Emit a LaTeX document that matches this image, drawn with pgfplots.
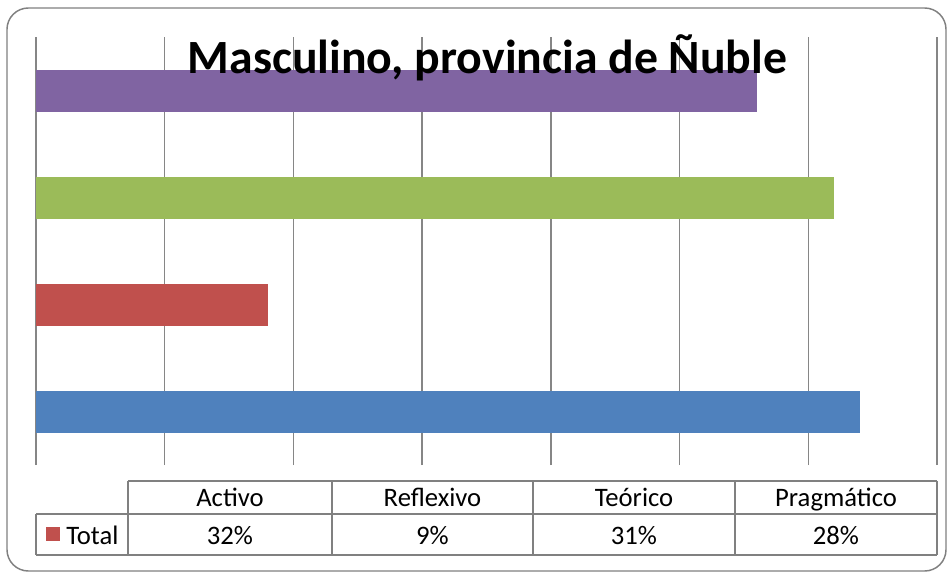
\documentclass[border=0pt]{standalone}
\usepackage{pgfplots}
\pgfplotsset{compat=1.18}
\usepackage{fontspec}
\setmainfont{Carlito}
\definecolor{cBlue}{HTML}{4F81BD}
\definecolor{cRed}{HTML}{C0504D}
\definecolor{cGreen}{HTML}{9BBB59}
\definecolor{cPurple}{HTML}{8064A2}
\definecolor{cGrid}{HTML}{868686}
\definecolor{cBorder}{HTML}{808080}
\begin{document}
\begin{tikzpicture}
\begin{scope}[x=0.75pt,y=-0.75pt]
\path[use as bounding box] (0,0) rectangle (951,575);
\draw[rounded corners=16pt, color=cBorder, line width=1.1pt] (7,8) rectangle (946,571);
\end{scope}
\begin{axis}[
  at={(27pt,-348.75pt)}, anchor=south west,
  scale only axis, width=675.75pt, height=321pt,
  xmin=0, xmax=0.35, ymin=-0.5, ymax=3.5,
  xbar, bar width=31.5pt, bar shift=0pt,
  xtick={0,0.05,0.1,0.15,0.2,0.25,0.3,0.35},
  xticklabels={}, ytick=\empty,
  major tick length=0pt,
  axis line style={draw=none},
  xmajorgrids, major grid style={color=cGrid, line width=1pt},
  clip=false,
]
\addplot[fill=cBlue, draw=none] coordinates {(0.32,0)};
\addplot[fill=cRed, draw=none] coordinates {(0.09,1)};
\addplot[fill=cGreen, draw=none] coordinates {(0.31,2)};
\addplot[fill=cPurple, draw=none] coordinates {(0.28,3)};
\end{axis}
\begin{scope}[x=0.75pt,y=-0.75pt]
\node[anchor=base, inner sep=0pt, font=\fontsize{35.8}{40}\selectfont\bfseries] at (487.5,73.5) {Masculino, provincia de Ñuble};
% table
\draw[color=cBorder, line width=1pt] (128,481) -- (937,481);
\draw[color=cBorder, line width=1pt] (36,514) -- (937,514);
\draw[color=cBorder, line width=1pt] (36,555) -- (937,555);
\draw[color=cBorder, line width=1pt] (36,514) -- (36,555);
\foreach \xx in {128,332,533,735,937} {
  \draw[color=cBorder, line width=1pt] (\xx,481) -- (\xx,555);
}
\foreach \xx/\tt in {230/Activo,432.5/Reflexivo,634/Teórico,836/Pragmático} {
  \node[anchor=base, inner sep=0pt, font=\fontsize{20}{24}\selectfont] at (\xx,506) {\tt};
}
\foreach \xx/\tt in {230/32\%,432.5/9\%,634/31\%,836/28\%} {
  \node[anchor=base, inner sep=0pt, font=\fontsize{20}{24}\selectfont] at (\xx,544) {\tt};
}
\fill[cRed] (46,527) rectangle (60,541);
\node[anchor=base west, inner sep=0pt, font=\fontsize{20}{24}\selectfont] at (66,544) {Total};
\end{scope}
\end{tikzpicture}
\end{document}
